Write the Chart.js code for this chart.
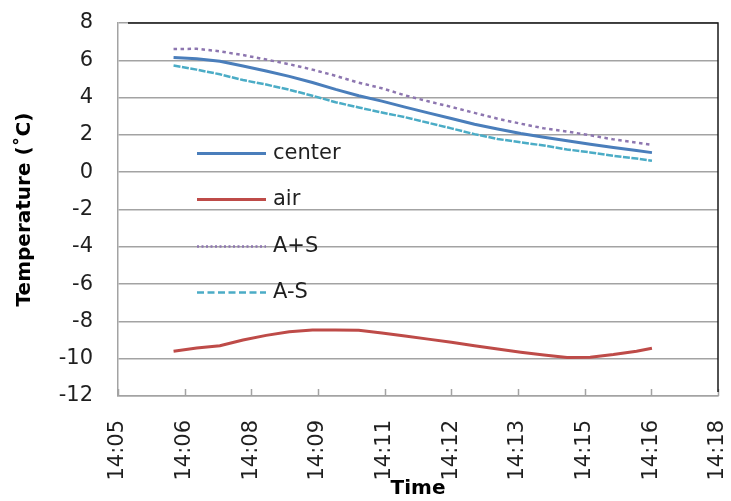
<!DOCTYPE html>
<html>
<head>
<meta charset="utf-8">
<script src="https://cdn.jsdelivr.net/npm/chart.js@4/dist/chart.umd.min.js"></script>
<style>
  html, body { margin: 0; padding: 0; background: #ffffff; }
  #wrap { width: 731px; height: 501px; }
</style>
</head>
<body>
<div id="wrap"><canvas id="c" width="731" height="501"></canvas></div>
<script>
// Sample times (hh:mm:ss) and temperatures in °C
const sampleTimes = ['14:06:30','14:07:00','14:07:30','14:08:00','14:08:30','14:09:00','14:09:30','14:10:00',
  '14:10:30','14:11:00','14:11:30','14:12:00','14:12:30','14:13:00','14:13:30','14:14:00',
  '14:14:30','14:15:00','14:15:30','14:16:00','14:16:30','14:16:50'];
const centerTemp = [6.15,6.08,5.95,5.69,5.43,5.14,4.81,4.44,4.10,3.81,3.49,3.18,2.88,2.57,2.32,2.07,1.87,1.69,1.50,1.33,1.16,1.05];
const airTemp = [-9.60,-9.43,-9.30,-9.00,-8.75,-8.55,-8.46,-8.46,-8.47,-8.62,-8.78,-8.95,-9.12,-9.30,-9.48,-9.65,-9.80,-9.93,-9.92,-9.78,-9.60,-9.44];
const aPlusS = [6.60,6.62,6.48,6.28,6.04,5.79,5.50,5.17,4.80,4.50,4.12,3.80,3.50,3.18,2.87,2.60,2.35,2.18,1.98,1.76,1.58,1.46];
const aMinusS = [5.72,5.50,5.25,4.94,4.70,4.42,4.10,3.75,3.47,3.20,2.95,2.65,2.35,2.04,1.78,1.60,1.43,1.22,1.06,0.88,0.73,0.62];
const seriesNames = ['center', 'air', 'A+S', 'A-S'];

// Time axis: tick labels, first tick time and tick spacing (minutes)
const tickLabels = ['14:05','14:06','14:08','14:09','14:11','14:12','14:13','14:15','14:16','14:18'];
const axisStart = '14:05:18';
const tickStepMin = 1.44;

const yMin = -12, yMax = 8, yStep = 2;

function toMinutes(t) {
  const p = t.split(':').map(Number);
  return p[0] * 60 + p[1] + (p[2] || 0) / 60;
}
const xStart = toMinutes(axisStart);
const xEnd = xStart + tickStepMin * (tickLabels.length - 1);

function points(values) {
  return values.map((v, i) => ({ x: toMinutes(sampleTimes[i]), y: v }));
}

const FONT = 'DejaVu Sans';
const GRID = '#a3a3a3';

// Keep the plot box exactly where the layout padding puts it
function fixBox(scale, w, h) {
  if (w !== undefined) scale.width = w;
  if (h !== undefined) scale.height = h;
  scale.paddingLeft = 0;
  scale.paddingRight = 0;
  scale.paddingTop = 0;
  scale.paddingBottom = 0;
}

// Short inward tick marks on the time axis and the dark frame on top/right
const framePlugin = {
  id: 'frame',
  beforeDatasetsDraw(chart) {
    const { ctx, chartArea: a, scales: { x } } = chart;
    ctx.save();
    ctx.strokeStyle = GRID;
    ctx.lineWidth = 1.5;
    x.ticks.forEach((t) => {
      const px = Math.round(x.getPixelForValue(t.value)) + 0.5;
      ctx.beginPath();
      ctx.moveTo(px, a.bottom - 7);
      ctx.lineTo(px, a.bottom);
      ctx.stroke();
    });
    ctx.restore();
  },
  afterDraw(chart) {
    const { ctx, chartArea: a } = chart;
    ctx.save();
    ctx.strokeStyle = '#1a1a1a';
    ctx.lineWidth = 1.5;
    ctx.beginPath();
    ctx.moveTo(a.left + 10, a.top);
    ctx.lineTo(a.right, a.top);
    ctx.lineTo(a.right, a.bottom - 4);
    ctx.stroke();
    ctx.restore();
  }
};

// Legend drawn inside the plot area, one row per series
const inlineLegend = {
  id: 'inlineLegend',
  afterDatasetsDraw(chart) {
    const { ctx, chartArea: a } = chart;
    const x0 = a.left + 79, x1 = a.left + 148, tx = a.left + 155;
    const y0 = a.top + 130, dy = 46.3;
    ctx.save();
    chart.data.datasets.forEach((ds, i) => {
      const y = Math.round(y0 + i * dy) + 0.5;
      ctx.strokeStyle = ds.borderColor;
      ctx.lineWidth = ds.legendWidth || ds.borderWidth;
      ctx.setLineDash(ds.legendDash || []);
      ctx.beginPath();
      ctx.moveTo(x0, y);
      ctx.lineTo(x1, y);
      ctx.stroke();
      ctx.setLineDash([]);
      ctx.fillStyle = '#1f1f1f';
      ctx.font = '21px "' + FONT + '"';
      ctx.textBaseline = 'middle';
      ctx.textAlign = 'left';
      ctx.fillText(ds.label, tx, y);
    });
    ctx.restore();
  }
};

new Chart(document.getElementById('c'), {
  type: 'line',
  data: {
    datasets: [
      { label: seriesNames[0], data: points(centerTemp), borderColor: '#4a7ebb', borderWidth: 3 },
      { label: seriesNames[1], data: points(airTemp), borderColor: '#be4b48', borderWidth: 3 },
      { label: seriesNames[2], data: points(aPlusS), borderColor: '#8d76b0', borderWidth: 2.5,
        borderDash: [3.5, 3.5], legendDash: [2, 2.5], legendWidth: 2.5 },
      { label: seriesNames[3], data: points(aMinusS), borderColor: '#4bacc6', borderWidth: 2.5,
        borderDash: [7, 1.5], legendDash: [7, 3.5], legendWidth: 2.5 }
    ]
  },
  options: {
    responsive: false,
    animation: false,
    devicePixelRatio: 1,
    layout: { padding: { top: 23, right: 13, left: 0, bottom: 0 } },
    elements: { point: { radius: 0 }, line: { tension: 0, borderCapStyle: 'butt' } },
    plugins: { legend: { display: false }, tooltip: { enabled: false } },
    scales: {
      x: {
        type: 'linear',
        min: xStart,
        max: xEnd,
        afterBuildTicks(scale) {
          scale.ticks = tickLabels.map((_, i) => ({ value: xStart + i * tickStepMin }));
        },
        afterFit(scale) { fixBox(scale, undefined, 105); },
        grid: { display: true, drawOnChartArea: false, drawTicks: false },
        border: { display: true, color: GRID, width: 1.5 },
        ticks: {
          autoSkip: false,
          maxRotation: 90,
          minRotation: 90,
          padding: 24,
          color: '#1f1f1f',
          font: { family: FONT, size: 21 },
          callback: (v, i) => tickLabels[i]
        },
        title: {
          display: true,
          text: 'Time',
          color: '#000000',
          font: { family: FONT, size: 20, weight: 'bold' },
          padding: { top: 0, bottom: 0 }
        }
      },
      y: {
        min: yMin,
        max: yMax,
        afterFit(scale) { fixBox(scale, 118, undefined); },
        grid: { color: GRID, lineWidth: 1.5, drawTicks: false },
        border: { display: true, color: GRID, width: 1.5 },
        ticks: {
          stepSize: yStep,
          padding: 25,
          color: '#1f1f1f',
          font: { family: FONT, size: 21 }
        },
        title: {
          display: true,
          text: 'Temperature (˚C)',
          color: '#000000',
          font: { family: FONT, size: 20, weight: 'bold' },
          padding: { top: 13, bottom: 0 }
        }
      }
    }
  },
  plugins: [framePlugin, inlineLegend]
});
</script>
</body>
</html>
